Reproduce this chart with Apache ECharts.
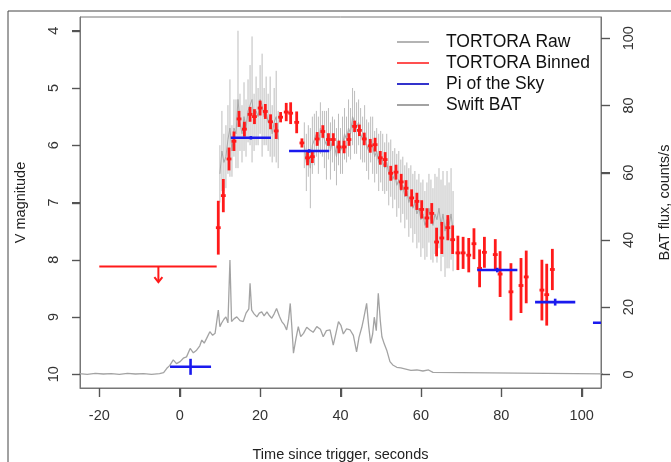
<!DOCTYPE html>
<html><head><meta charset="utf-8">
<script src="https://cdn.jsdelivr.net/npm/echarts@6/dist/echarts.min.js"></script>
<style>html,body{margin:0;padding:0;background:#fff}#c{width:671px;height:462px}</style>
</head><body><div id="c"></div>
<script>
// ---- tick labels ----
const xTicks = [-20, 0, 20, 40, 60, 80, 100];
const magTicks = [4, 5, 6, 7, 8, 9, 10];
const batTicks = [0, 20, 40, 60, 80, 100];

// ---- TORTORA raw (two observing segments) ----
const rawTA = [10,10.5,11,11.5,12,12.5,13,13.5,14,14.5,15,15.5,16,16.5,17,17.5,18,18.5,19,19.5,20,20.5,21,21.5,22,22.5,23,23.5,24,24.5];
const rawMagA = [6.5,6.1,6.3,6.2,5.9,5.7,6.1,5.7,5.8,5.2,5.6,5.8,5.5,5.7,5.4,5.3,5.2,5.6,5.4,5.5,5.2,5.3,5.5,5.4,5.6,5.5,5.8,5.6,5.5,5.9];
const rawErrA = [0.5,0.7,0.5,0.55,0.6,0.85,0.45,0.5,0.6,1.2,0.5,0.5,0.6,0.5,0.55,0.7,1.1,0.5,0.6,0.5,0.6,0.9,0.5,0.6,0.5,0.7,0.5,0.6,0.8,0.5];
const rawTB = [31,31.5,32,32.5,33,33.5,34,34.5,35,35.5,36,36.5,37,37.5,38,38.5,39,39.5,40,40.5,41,41.5,42,42.5,43,43.5,44,44.5,45,45.5,46,46.5,47,47.5,48,48.5,49,49.5,50,50.5,51,51.5,52,52.5,53,53.5,54,54.5,55,55.5,56,56.5,57,57.5,58,58.5,59,59.5,60,60.5,61,61.5,62,62.5,63,63.5,64,64.5,65,65.5,66,66.5,67,67.5,68];
const rawMagB = [6.0,6.3,6.1,6.4,6.0,5.9,5.8,6.0,5.7,5.8,5.9,6.0,5.8,6.1,5.9,6.0,6.2,5.9,6.1,6.0,5.8,5.9,5.7,5.8,5.5,5.6,5.7,5.6,5.8,5.9,5.8,6.0,6.1,5.9,6.0,6.2,6.1,6.3,6.2,6.3,6.4,6.3,6.5,6.4,6.6,6.5,6.7,6.6,6.8,6.7,6.9,6.8,7.0,6.9,7.1,7.0,7.2,7.1,7.3,7.2,7.4,7.3,7.1,7.3,7.4,7.2,7.3,7.1,7.4,7.2,7.5,7.3,7.4,7.2,7.5];
const rawErrB = [0.4,0.5,0.45,0.7,0.5,0.45,0.4,0.5,0.45,0.4,0.5,0.6,0.45,0.5,0.4,0.45,0.5,0.45,0.4,0.5,0.45,0.4,0.5,0.45,0.5,0.55,0.45,0.4,0.45,0.4,0.5,0.45,0.5,0.4,0.5,0.45,0.4,0.5,0.45,0.5,0.45,0.5,0.55,0.5,0.5,0.45,0.55,0.5,0.55,0.5,0.55,0.5,0.6,0.55,0.6,0.55,0.6,0.6,0.65,0.6,0.6,0.65,0.6,0.7,0.65,0.7,0.75,0.7,0.8,0.75,0.8,0.85,0.75,0.8,0.7];

// ---- TORTORA binned ----
const binT = [9.6,10.85,12.27,13.5,14.76,16.1,17.5,18.6,20.0,21.3,22.6,24.0,25.1,26.5,27.6,29.1,30.4,31.8,33.0,34.2,35.6,37.0,38.2,39.6,40.9,42.1,43.5,44.7,45.9,47.4,48.6,49.9,51.1,52.5,53.8,55.1,56.3,57.7,59.0,60.2,61.5,62.7,63.9,65.2,66.7,67.9,69.2,70.5,71.9,73.2,74.6,75.8,78.5,79.7,82.4,84.9,86.2,90.1,91.3,92.7];
const binMag = [7.44,6.88,6.24,5.93,5.54,5.72,5.46,5.50,5.35,5.41,5.59,5.75,5.51,5.42,5.44,5.60,5.96,6.22,6.20,5.89,5.76,5.90,5.90,6.03,6.03,5.90,5.67,5.74,5.89,6.01,5.99,6.22,6.25,6.49,6.47,6.64,6.75,6.92,6.98,7.12,7.27,7.19,7.69,7.62,7.44,7.65,7.88,7.88,7.92,7.72,8.15,7.87,7.91,8.25,8.56,8.45,8.30,8.53,8.61,8.17];
const binErr = [0.47,0.29,0.20,0.17,0.14,0.13,0.13,0.13,0.13,0.13,0.13,0.14,0.09,0.16,0.19,0.19,0.08,0.13,0.11,0.12,0.11,0.11,0.11,0.11,0.11,0.11,0.10,0.10,0.11,0.12,0.12,0.12,0.13,0.13,0.13,0.14,0.14,0.15,0.15,0.16,0.17,0.18,0.25,0.28,0.22,0.25,0.30,0.28,0.30,0.27,0.33,0.27,0.27,0.40,0.50,0.48,0.46,0.53,0.54,0.36];
const binHalfWidth = 0.6;

// ---- Pi of the Sky ----
const piT = [2.7, 17.7, 32.2, 79.0, 93.4, 107.8];
const piMag = [9.87, 5.87, 6.10, 8.18, 8.74, 9.10];
const piErr = [0.14, 0.03, 0.03, 0.04, 0.06, 0.05];
const piHalfWidth = [5.1, 5.0, 5.0, 5.0, 5.0, 5.0];

// ---- upper limit ----
const limitStart = -20, limitEnd = 9.2, limitMag = 8.12, limitArrowT = -5.3, limitArrowTip = 8.39;

// ---- Swift BAT ----
const batT = [-25,-23,-21,-19,-17,-15,-13,-11,-9,-7,-5,-4,-3.2,-2.5,-1.6,-0.8,0.1,0.9,1.7,2.6,3.4,4.2,5.0,5.5,6.1,6.7,7.5,8.2,8.8,9.6,10.0,10.4,11.0,11.5,12.0,12.5,12.9,13.5,14.2,15.0,15.8,16.5,17.2,17.5,17.9,18.5,19.2,19.8,20.4,21.0,21.7,22.3,22.9,23.5,24.1,24.8,25.4,26.0,26.6,27.1,27.5,27.9,28.3,28.9,29.5,30.1,30.8,31.6,32.4,33.2,34.1,35.0,35.7,36.5,37.4,38.2,38.9,39.5,40.1,40.7,41.5,42.4,43.2,44.0,44.6,45.3,45.7,46.5,47.0,47.5,48.0,48.4,48.9,49.4,49.9,50.3,50.9,51.5,52.3,53.0,54.0,55.0,56.5,57.5,59.0,60.5,61.9,63,110];
const batFlux = [0.2,0.0,0.3,0.1,0.2,0.0,0.3,0.1,0.2,0.0,0.2,0.5,1.8,2.6,4.3,3.2,3.8,4.8,5.2,7.7,6.4,7.2,8.5,10.2,9.3,10.7,12.7,11.6,12.2,19.1,14.2,15.2,16.4,17.1,15.3,34.0,15.7,16.5,17.1,16.0,15.7,18.2,19.5,27.1,19.1,18.0,17.1,18.2,18.6,17.4,18.6,17.5,16.7,18.0,19.6,17.3,15.7,14.8,13.2,16.5,21.1,14.0,6.3,10.5,14.2,11.2,12.2,14.0,13.2,12.5,14.2,13.4,11.2,13.0,13.2,8.7,12.4,15.7,14.6,12.0,13.5,13.2,11.6,6.7,11.0,14.0,16.2,21.1,14.5,9.2,12.0,17.0,13.0,24.1,16.0,11.2,9.0,7.2,3.8,2.8,2.1,1.9,1.5,1.2,1.3,1.0,1.3,0.6,0.1];

const FONT = 'Liberation Sans, Arial, Helvetica, sans-serif';
const RED = '#ff1a1a', BLUE = '#1a1aee', RAWGREY = '#b4b4b4', BATGREY = '#a3a3a3';
const AXISGREY = '#777', TICKGREY = '#555';
const X_MIN = -24.8, X_MAX = 104.8, MAG_MIN = 3.76, MAG_MAX = 10.24, BAT_MIN = -4.06, BAT_MAX = 106.3;

function errRender(color, width) {
  return function (params, api) {
    const x = api.value(0), y = api.value(1), ey = api.value(2), ex = api.value(3);
    const top = api.coord([x, y - ey]), bot = api.coord([x, y + ey]);
    const l = api.coord([x - ex, y]), r = api.coord([x + ex, y]);
    const st = {stroke: color, lineWidth: width};
    const ch = [];
    if (ey > 0) ch.push({type: 'line', shape: {x1: top[0], y1: top[1], x2: bot[0], y2: bot[1]}, style: st});
    if (ex > 0) ch.push({type: 'line', shape: {x1: l[0], y1: l[1], x2: r[0], y2: r[1]}, style: st});
    return {type: 'group', children: ch};
  };
}

const crisp = v => Math.round(v) + 0.5;
function tickRender(dx, dy) {
  return function (params, api) {
    const p = api.coord([api.value(0), api.value(1)]);
    const x = dx === 0 ? crisp(p[0]) : p[0];
    const y = dy === 0 ? crisp(p[1]) : p[1];
    return {type: 'group', children: [{type: 'line', silent: true,
      shape: {x1: x, y1: y, x2: x + dx, y2: y + dy},
      style: {stroke: TICKGREY, lineWidth: 1.2}}]};
  };
}

const rawErrData = rawTA.map((t, i) => [t, rawMagA[i], rawErrA[i], 0])
  .concat(rawTB.map((t, i) => [t, rawMagB[i], rawErrB[i], 0]));
const binData = binT.map((t, i) => [t, binMag[i], binErr[i], binHalfWidth]);
const piData = piT.map((t, i) => [t, piMag[i], piErr[i], piHalfWidth[i]]);

const frame = {
  type: 'rect', shape: {x: 8, y: 11, width: 700, height: 500},
  style: {fill: 'none', stroke: '#444', lineWidth: 1}, silent: true, z: 100
};

const chart = echarts.init(document.getElementById('c'), null, {renderer: 'canvas'});
chart.setOption({
  animation: false,
  backgroundColor: '#fff',
  textStyle: {fontFamily: FONT},
  graphic: [frame],
  grid: {left: 80, right: 70, top: 17, bottom: 74, show: true, borderColor: AXISGREY, borderWidth: 1,
         backgroundColor: 'transparent', containLabel: false, outerBoundsMode: 'none'},
  legend: {
    orient: 'vertical', left: 397, top: 31.5, padding: 0, itemWidth: 32, itemHeight: 2, itemGap: 0, icon: 'rect',
    textStyle: {fontFamily: FONT, fontSize: 17.5, color: '#111', lineHeight: 21, padding: [0, 0, 0, 12]},
    data: [
      {name: 'TORTORA Raw', itemStyle: {color: RAWGREY}},
      {name: 'TORTORA Binned', itemStyle: {color: '#ff5050'}},
      {name: 'Pi of the Sky', itemStyle: {color: '#3333cc'}},
      {name: 'Swift BAT', itemStyle: {color: BATGREY}}
    ]
  },
  xAxis: {
    type: 'value', min: X_MIN, max: X_MAX, position: 'bottom',
    axisLine: {show: true, onZero: false, lineStyle: {color: AXISGREY, width: 1}}, splitLine: {show: false},
    axisTick: {show: true, inside: false, length: 9, customValues: xTicks, lineStyle: {color: TICKGREY, width: 1}},
    axisLabel: {customValues: xTicks, fontSize: 14.5, color: '#333', margin: 20, fontFamily: FONT},
    name: 'Time since trigger, seconds', nameLocation: 'middle', nameGap: 59,
    nameTextStyle: {fontSize: 14.5, color: '#222', fontFamily: FONT}
  },
  yAxis: [{
    type: 'value', inverse: true, min: MAG_MIN, max: MAG_MAX, position: 'left',
    axisLine: {show: true, onZero: false, lineStyle: {color: AXISGREY, width: 1}}, splitLine: {show: false},
    axisTick: {show: true, inside: false, length: 8, customValues: magTicks, lineStyle: {color: TICKGREY, width: 1}},
    axisLabel: {customValues: magTicks, rotate: 90, fontSize: 14.5, color: '#333', margin: 19, fontFamily: FONT},
    name: 'V magnitude', nameLocation: 'middle', nameGap: 52, nameRotate: 90,
    nameTextStyle: {fontSize: 14.5, color: '#222', fontFamily: FONT}
  }, {
    type: 'value', min: BAT_MIN, max: BAT_MAX, position: 'right',
    axisLine: {show: true, onZero: false, lineStyle: {color: AXISGREY, width: 1}}, splitLine: {show: false},
    axisTick: {show: true, inside: false, length: 9, customValues: batTicks, lineStyle: {color: TICKGREY, width: 1}},
    axisLabel: {customValues: batTicks, rotate: 90, fontSize: 14.5, color: '#333', margin: 20, fontFamily: FONT},
    name: 'BAT flux, counts/s', nameLocation: 'middle', nameGap: 56, nameRotate: 90,
    nameTextStyle: {fontSize: 14.5, color: '#222', fontFamily: FONT}
  }],
  series: [
    {
      name: 'Swift BAT', type: 'line', yAxisIndex: 1, showSymbol: false, symbol: 'none',
      data: batT.map((t, i) => [t, batFlux[i]]),
      lineStyle: {color: BATGREY, width: 1.3}, itemStyle: {color: BATGREY}, z: 1
    },
    {
      name: 'TORTORA Raw', type: 'custom', yAxisIndex: 0, clip: true,
      renderItem: errRender('#bdbdbd', 1), data: rawErrData, encode: {x: 0, y: 1},
      itemStyle: {color: RAWGREY}, z: 2
    },
    {
      name: 'TORTORA Raw', type: 'line', yAxisIndex: 0, symbol: 'none',
      data: rawTA.map((t, i) => [t, rawMagA[i]]),
      lineStyle: {color: '#a8a8a8', width: 1}, itemStyle: {color: RAWGREY}, z: 3
    },
    {
      name: 'TORTORA Raw', type: 'line', yAxisIndex: 0, symbol: 'none',
      data: rawTB.map((t, i) => [t, rawMagB[i]]),
      lineStyle: {color: '#a8a8a8', width: 1}, itemStyle: {color: RAWGREY}, z: 3
    },
    {
      name: 'TORTORA Binned', type: 'custom', yAxisIndex: 0, clip: true,
      renderItem: errRender(RED, 2.8), data: binData, encode: {x: 0, y: 1},
      itemStyle: {color: RED}, z: 4
    },
    {
      name: 'Pi of the Sky', type: 'custom', yAxisIndex: 0, clip: true,
      renderItem: errRender(BLUE, 2.6), data: piData, encode: {x: 0, y: 1},
      itemStyle: {color: BLUE}, z: 5
    },
    {
      name: 'limit', type: 'custom', yAxisIndex: 0, clip: true,
      data: [[limitStart, limitEnd, limitMag, limitArrowT, limitArrowTip]],
      encode: {x: [0, 1, 3], y: [2, 4]},
      renderItem: function (params, api) {
        const a = api.coord([api.value(0), api.value(2)]);
        const b = api.coord([api.value(1), api.value(2)]);
        const s = api.coord([api.value(3), api.value(2)]);
        const tip = api.coord([api.value(3), api.value(4)]);
        const st = {stroke: RED, lineWidth: 2, fill: 'none'};
        return {type: 'group', children: [
          {type: 'line', shape: {x1: a[0], y1: a[1], x2: b[0], y2: b[1]}, style: st},
          {type: 'line', shape: {x1: s[0], y1: s[1], x2: tip[0], y2: tip[1]}, style: st},
          {type: 'polyline', shape: {points: [[tip[0] - 4, tip[1] - 5], [tip[0], tip[1]], [tip[0] + 4, tip[1] - 5]]}, style: st}
        ]};
      },
      itemStyle: {color: RED}, z: 4
    },
    {
      name: 'xticks', type: 'custom', yAxisIndex: 0, clip: false, silent: true,
      data: xTicks.map(v => [v, MAG_MAX]), encode: {x: 0, y: 1},
      renderItem: tickRender(0, 9), z: 6
    },
    {
      name: 'magticks', type: 'custom', yAxisIndex: 0, clip: false, silent: true,
      data: magTicks.map(v => [X_MIN, v]), encode: {x: 0, y: 1},
      renderItem: tickRender(-8, 0), z: 6
    },
    {
      name: 'batticks', type: 'custom', yAxisIndex: 1, clip: false, silent: true,
      data: batTicks.map(v => [X_MAX, v]), encode: {x: 0, y: 1},
      renderItem: tickRender(9, 0), z: 6
    }
  ]
});

// extra safeguard: tick marks as graphic elements, positioned through the series' coordinate systems
try {
  const tickStyle = {stroke: TICKGREY, lineWidth: 1.2};
  const els = [frame];
  xTicks.forEach(v => {
    const p = chart.convertToPixel({seriesIndex: 4}, [v, MAG_MAX]);
    if (p && isFinite(p[0])) els.push({type: 'line', silent: true, z: 110,
      shape: {x1: crisp(p[0]), y1: p[1], x2: crisp(p[0]), y2: p[1] + 9}, style: tickStyle});
  });
  magTicks.forEach(v => {
    const p = chart.convertToPixel({seriesIndex: 4}, [X_MIN, v]);
    if (p && isFinite(p[1])) els.push({type: 'line', silent: true, z: 110,
      shape: {x1: p[0] - 8, y1: crisp(p[1]), x2: p[0], y2: crisp(p[1])}, style: tickStyle});
  });
  batTicks.forEach(v => {
    const p = chart.convertToPixel({seriesIndex: 0}, [X_MAX, v]);
    if (p && isFinite(p[1])) els.push({type: 'line', silent: true, z: 110,
      shape: {x1: p[0], y1: crisp(p[1]), x2: p[0] + 9, y2: crisp(p[1])}, style: tickStyle});
  });
  chart.setOption({graphic: {elements: els}});
} catch (e) { /* keep chart as is */ }
</script></body></html>
